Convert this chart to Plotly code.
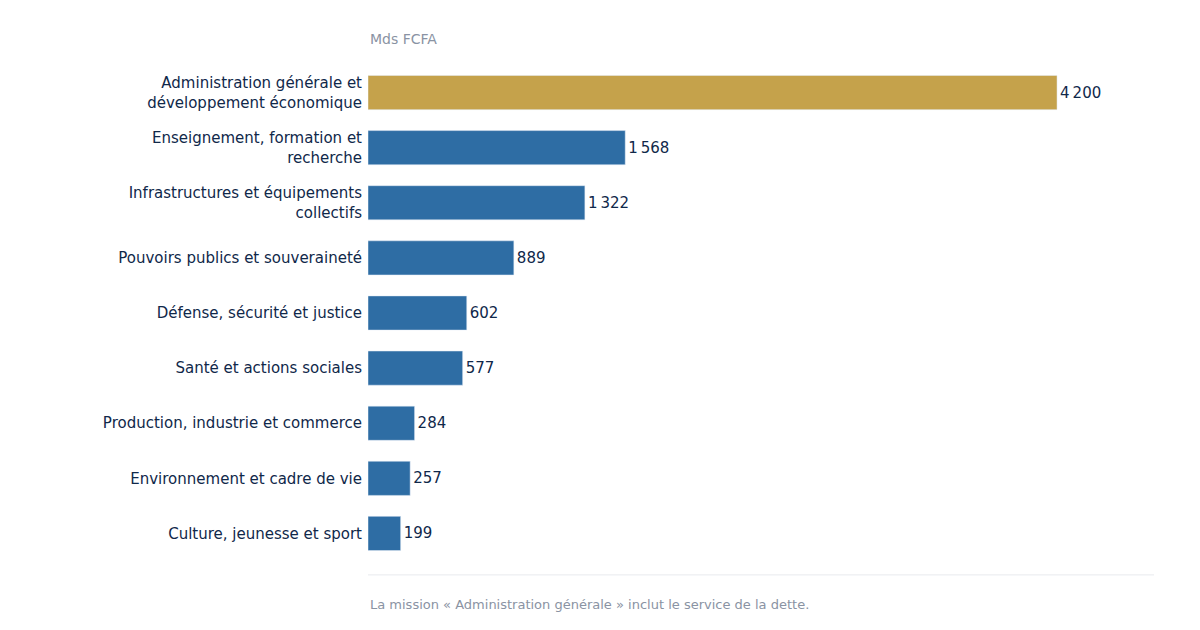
import pandas as pd
import plotly.express as px

df = pd.DataFrame({
    'mission': ['Administration générale et<br>développement économique',
                'Enseignement, formation et<br>recherche',
                'Infrastructures et équipements<br>collectifs',
                'Pouvoirs publics et souveraineté',
                'Défense, sécurité et justice',
                'Santé et actions sociales',
                'Production, industrie et commerce',
                'Environnement et cadre de vie',
                'Culture, jeunesse et sport'],
    'montant': [4200, 1568, 1322, 889, 602, 577, 284, 257, 199],
})
df['groupe'] = ['dette'] + ['autre'] * 8
df['label'] = df['montant'].map(lambda v: f'{v:,}'.replace(',', '\u202f'))

fig = px.bar(df, x='montant', y='mission', orientation='h', color='groupe', text='label',
             color_discrete_map={'dette': '#C5A24B', 'autre': '#2E6DA4'})

fig.update_traces(textposition='outside', cliponaxis=False, width=0.62,
                  textfont=dict(family='DejaVu Sans', size=15, color='#10284A'))
fig.update_layout(
    width=1200, height=630, showlegend=False, plot_bgcolor='white', paper_bgcolor='white',
    margin=dict(l=360, r=54, t=57, b=77),
    font=dict(family='DejaVu Sans', size=15, color='#10284A'),
    bargap=0.38,
)
fig.update_xaxes(visible=False, range=[0, 4791])
fig.update_yaxes(title=None, categoryorder='array', categoryarray=list(df['mission'][::-1]),
                 ticks='', ticklabelstandoff=5, showgrid=False)

fig.add_annotation(text='Mds FCFA', xref='paper', yref='paper', x=0, y=1.052, xanchor='left',
                   yanchor='middle', showarrow=False, font=dict(size=14, color='#8A93A3'))
fig.add_annotation(text='La mission « Administration générale » inclut le service de la dette.',
                   xref='paper', yref='paper', x=0, y=-0.088, xanchor='left', yanchor='middle',
                   showarrow=False, font=dict(size=13, color='#8A93A3'))
fig.add_shape(type='line', xref='paper', yref='paper', x0=0, x1=1, y0=-0.028, y1=-0.028,
              line=dict(color='#E8EAEE', width=1))
fig.add_shape(type='line', xref='paper', yref='paper', x0=-0.46, x1=1.07, y0=-0.147, y1=-0.147,
              line=dict(color='#C5A24B', width=3))

fig.write_html('out.html')
